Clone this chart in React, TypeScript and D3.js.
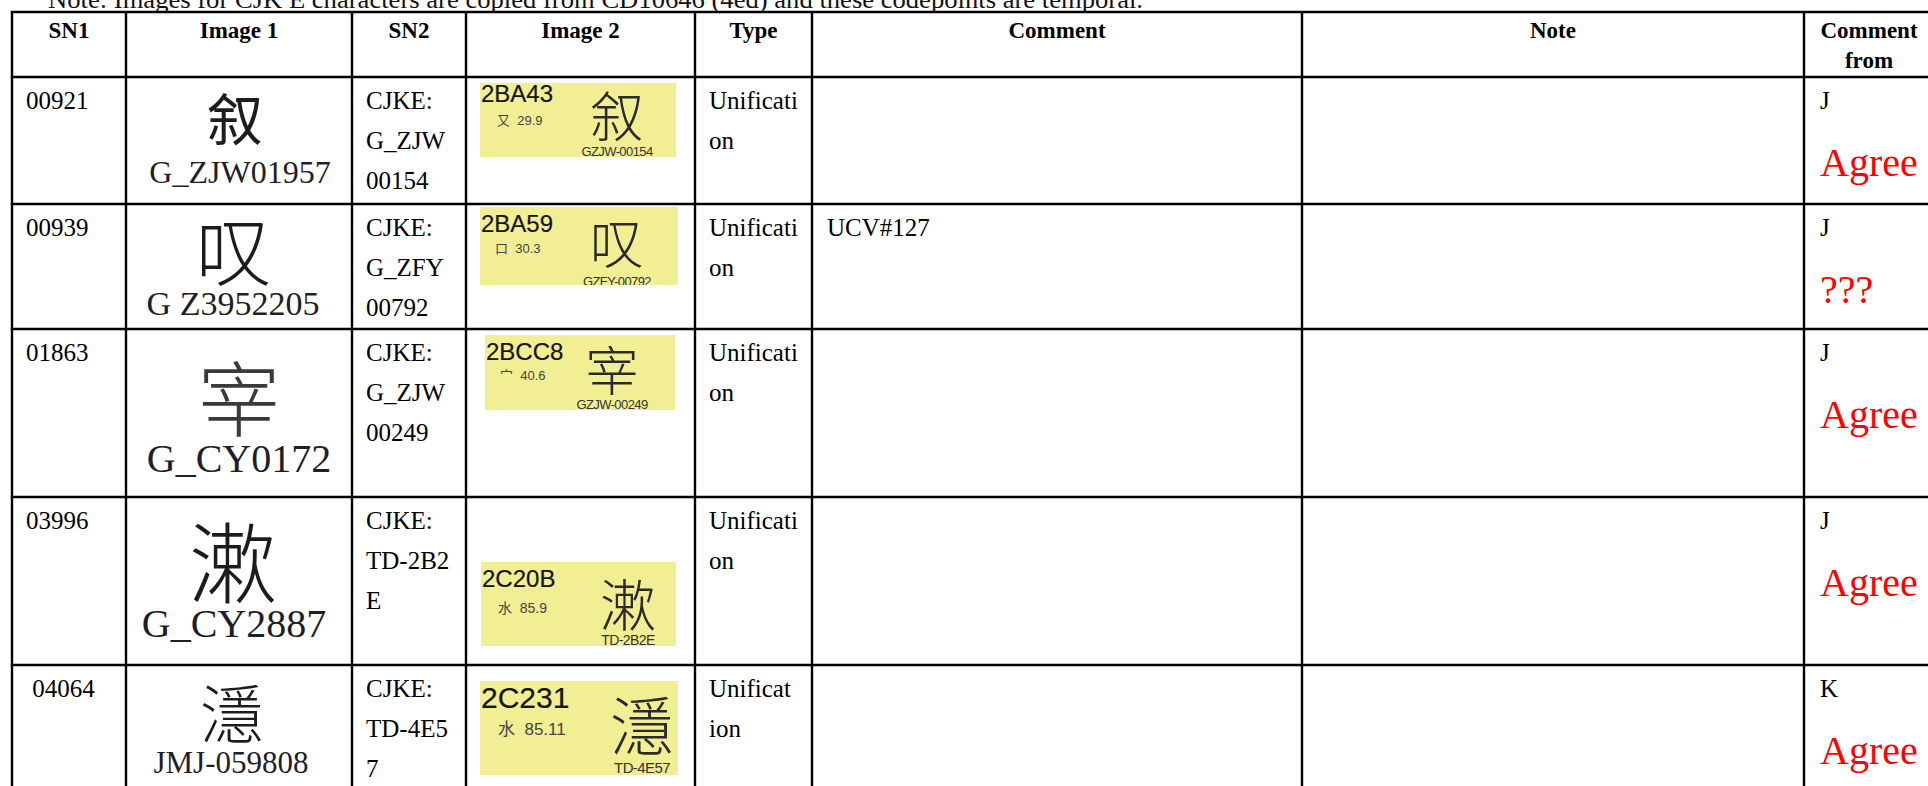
import React, { useEffect, useRef } from 'react';
import * as d3 from 'd3';

const WIDTH = 1928;
const HEIGHT = 786;

const noteText =
  'Note: Images for CJK E characters are copied from CD10646 (4ed) and these codepoints are temporal.';
const columns = ['SN1', 'Image 1', 'SN2', 'Image 2', 'Type', 'Comment', 'Note', 'Comment from'];
const sn1 = ['00921', '00939', '01863', '03996', '\u00a004064'];
const codepoints = ['2BA43', '2BA59', '2BCC8', '2C20B', '2C231'];
// Ext E is not in the installed fonts, so the nearest encoded look-alikes are drawn
const glyphs = ['叙', '叹', '宰', '漱', '濦'];
const image1Sources = ['G_ZJW01957', 'G Z3952205', 'G_CY0172', 'G_CY2887', 'JMJ-059808'];
const sn2Lines = [
  ['CJKE:', 'G_ZJW', '00154'],
  ['CJKE:', 'G_ZFY', '00792'],
  ['CJKE:', 'G_ZJW', '00249'],
  ['CJKE:', 'TD-2B2', 'E'],
  ['CJKE:', 'TD-4E5', '7'],
];
const radicalStrokes = ['又 29.9', '口 30.3', '宀 40.6', '水 85.9', '水 85.11'];
const image2Sources = ['GZJW-00154', 'GZFY-00792', 'GZJW-00249', 'TD-2B2E', 'TD-4E57'];
const typeLines = [
  ['Unificati', 'on'],
  ['Unificati', 'on'],
  ['Unificati', 'on'],
  ['Unificati', 'on'],
  ['Unificat', 'ion'],
];
const comments = ['', 'UCV#127', '', '', ''];
const notes = ['', '', '', '', ''];
const commentFrom = ['J', 'J', 'J', 'J', 'K'];
const verdicts = ['Agree', '???', 'Agree', 'Agree', 'Agree'];

// grid of the scanned table, in page pixels
const colEdges = [12, 126, 352, 466, 695, 812, 1302, 1804, 1934];
const rowEdges = [12, 77, 204, 329, 497, 665, 850];

// the pasted glyph images are scaled differently in every row
const img1Layout = [
  { dx: -4, cy: 38.5, size: 56, weight: 400, labelDx: 1, labelY: 106, labelSize: 32 },
  { dx: -5, cy: 43, size: 76, weight: 300, labelDx: -6, labelY: 111, labelSize: 34 },
  { dx: 0, cy: 65, size: 82, weight: 300, labelDx: 0, labelY: 143, labelSize: 40 },
  { dx: -6, cy: 60, size: 88, weight: 300, labelDx: -5, labelY: 140, labelSize: 40 },
  { dx: -7, cy: 45, size: 64, weight: 300, labelDx: -8, labelY: 108, labelSize: 31 },
];
const img2Layout = [
  { dx: 14, dy: 6, w: 196, h: 74, code: 19, codeSize: 24, rad: 42, radX: 17, radSize: 13, cx: 137, cy: 30, size: 54, src: 73, srcSize: 13 },
  { dx: 14, dy: 3, w: 198, h: 78, code: 25, codeSize: 24, rad: 46, radX: 15, radSize: 13, cx: 137, cy: 33, size: 54, src: 79, srcSize: 13 },
  { dx: 19, dy: 6, w: 190, h: 75, code: 25, codeSize: 24, rad: 45, radX: 15, radSize: 13, cx: 127, cy: 33, size: 53, src: 74, srcSize: 13 },
  { dx: 15, dy: 65, w: 195, h: 84, code: 25, codeSize: 24, rad: 51, radX: 17, radSize: 14, cx: 147, cy: 39, size: 56, src: 83, srcSize: 14 },
  { dx: 14, dy: 16, w: 198, h: 94, code: 27, codeSize: 30, rad: 54, radX: 18, radSize: 17, cx: 162, cy: 41, size: 64, src: 92, srcSize: 15 },
];

const SERIF = "'Liberation Serif', 'Times New Roman', serif";
const SANS = "'Liberation Sans', Arial, sans-serif";
const CJK = "'Noto Sans CJK SC', 'Noto Sans CJK JP', 'Noto Sans CJK TC', sans-serif";

const App = () => {
  const svgRef = useRef(null);

  useEffect(() => {
    document.body.style.margin = '0';
    document.body.style.overflow = 'hidden';

    const svg = d3.select(svgRef.current);
    svg.selectAll('*').remove();

    const x = d3.scaleLinear().domain(d3.range(colEdges.length)).range(colEdges);
    const y = d3.scaleLinear().domain(d3.range(rowEdges.length)).range(rowEdges);
    const rows = d3.range(sn1.length);
    const rowTop = (i) => y(i + 1);

    svg.append('rect').attr('width', WIDTH).attr('height', HEIGHT).attr('fill', '#fff');

    // note above the table, half cut by the page edge
    svg.append('text')
      .attr('x', 48)
      .attr('y', 8)
      .attr('font-family', SERIF)
      .attr('font-size', 26)
      .attr('textLength', 1095)
      .attr('lengthAdjust', 'spacingAndGlyphs')
      .attr('fill', '#111')
      .text(noteText);

    // header
    const header = svg.append('g')
      .attr('font-family', SERIF)
      .attr('font-weight', 'bold')
      .attr('font-size', 23)
      .attr('text-anchor', 'middle')
      .attr('fill', '#000');
    columns.forEach((c, j) => {
      const cx = (x(j) + x(j + 1)) / 2;
      const words = c === 'Comment from' ? ['Comment', 'from'] : [c];
      words.forEach((w, k) => {
        header.append('text').attr('x', cx).attr('y', y(0) + 26 + k * 30).text(w);
      });
    });

    const body = svg.append('g').attr('font-family', SERIF).attr('font-size', 25).attr('fill', '#000');
    const pad = 14;
    const lineGap = 40;

    rows.forEach((i) => {
      const top = rowTop(i);
      const base = top + 32;

      body.append('text').attr('x', x(0) + pad).attr('y', base).text(sn1[i]);

      sn2Lines[i].forEach((t, k) => {
        body.append('text').attr('x', x(2) + pad).attr('y', base + k * lineGap).text(t);
      });
      typeLines[i].forEach((t, k) => {
        body.append('text').attr('x', x(4) + pad).attr('y', base + k * lineGap).text(t);
      });
      body.append('text').attr('x', x(5) + pad + 1).attr('y', base).text(comments[i]);
      body.append('text').attr('x', x(6) + pad).attr('y', base).text(notes[i]);
      body.append('text').attr('x', x(7) + pad + 2).attr('y', base).text(commentFrom[i]);
      body.append('text')
        .attr('x', x(7) + pad + 2)
        .attr('y', top + 99)
        .attr('font-size', 40)
        .attr('fill', '#ff0000')
        .text(verdicts[i]);

      // Image 1: source glyph with its source reference
      const l1 = img1Layout[i];
      const c1 = (x(1) + x(2)) / 2;
      svg.append('text')
        .attr('x', c1 + l1.dx)
        .attr('y', top + l1.cy)
        .attr('text-anchor', 'middle')
        .attr('dominant-baseline', 'central')
        .attr('font-family', CJK)
        .attr('font-weight', l1.weight)
        .attr('font-size', l1.size)
        .attr('fill', i === 2 ? '#3a3a3a' : '#1c1c1c')
        .text(glyphs[i]);
      svg.append('text')
        .attr('x', c1 + l1.labelDx)
        .attr('y', top + l1.labelY)
        .attr('text-anchor', 'middle')
        .attr('font-family', SERIF)
        .attr('font-size', l1.labelSize)
        .attr('fill', '#1e1e24')
        .text(image1Sources[i]);

      // Image 2: yellow code chart cell
      const l2 = img2Layout[i];
      const bx = x(3) + l2.dx;
      const by = top + l2.dy;
      const clipId = `box-clip-${i}`;
      svg.append('clipPath').attr('id', clipId)
        .append('rect').attr('x', bx).attr('y', by).attr('width', l2.w).attr('height', l2.h);
      const box = svg.append('g').attr('clip-path', `url(#${clipId})`);
      box.append('rect')
        .attr('x', bx).attr('y', by)
        .attr('width', l2.w).attr('height', l2.h)
        .attr('fill', '#f2ee93');
      box.append('text')
        .attr('x', bx + 1)
        .attr('y', by + l2.code)
        .attr('font-family', SANS)
        .attr('font-size', l2.codeSize)
        .attr('fill', '#151515')
        .attr('stroke', '#151515')
        .attr('stroke-width', 0.2)
        .text(codepoints[i]);
      box.append('text')
        .attr('x', bx + l2.radX)
        .attr('y', by + l2.rad)
        .attr('font-family', `${SANS}, ${CJK}`)
        .attr('font-size', l2.radSize)
        .attr('fill', '#444')
        .attr('xml:space', 'preserve')
        .text(radicalStrokes[i].replace(' ', '  '));
      box.append('text')
        .attr('x', bx + l2.cx)
        .attr('y', by + l2.cy)
        .attr('text-anchor', 'middle')
        .attr('dominant-baseline', 'central')
        .attr('font-family', CJK)
        .attr('font-weight', 300)
        .attr('font-size', l2.size)
        .attr('fill', '#2a2a2a')
        .text(glyphs[i]);
      box.append('text')
        .attr('x', bx + l2.cx)
        .attr('y', by + l2.src)
        .attr('text-anchor', 'middle')
        .attr('font-family', SANS)
        .attr('font-size', l2.srcSize)
        .attr('letter-spacing', -0.6)
        .attr('fill', '#333')
        .text(image2Sources[i]);
    });

    // grid lines
    const grid = svg.append('g').attr('stroke', '#000').attr('stroke-width', 2.4);
    rowEdges.slice(0, -1).forEach((_, r) => {
      grid.append('line')
        .attr('x1', x(0) - 1.2).attr('x2', x(colEdges.length - 1))
        .attr('y1', y(r)).attr('y2', y(r));
    });
    colEdges.forEach((_, c) => {
      grid.append('line')
        .attr('x1', x(c)).attr('x2', x(c))
        .attr('y1', y(0)).attr('y2', y(rowEdges.length - 1));
    });
  }, []);

  return (
    <svg
      ref={svgRef}
      width={WIDTH}
      height={HEIGHT}
      style={{ position: 'absolute', left: 0, top: 0, display: 'block' }}
    />
  );
};

export default App;
